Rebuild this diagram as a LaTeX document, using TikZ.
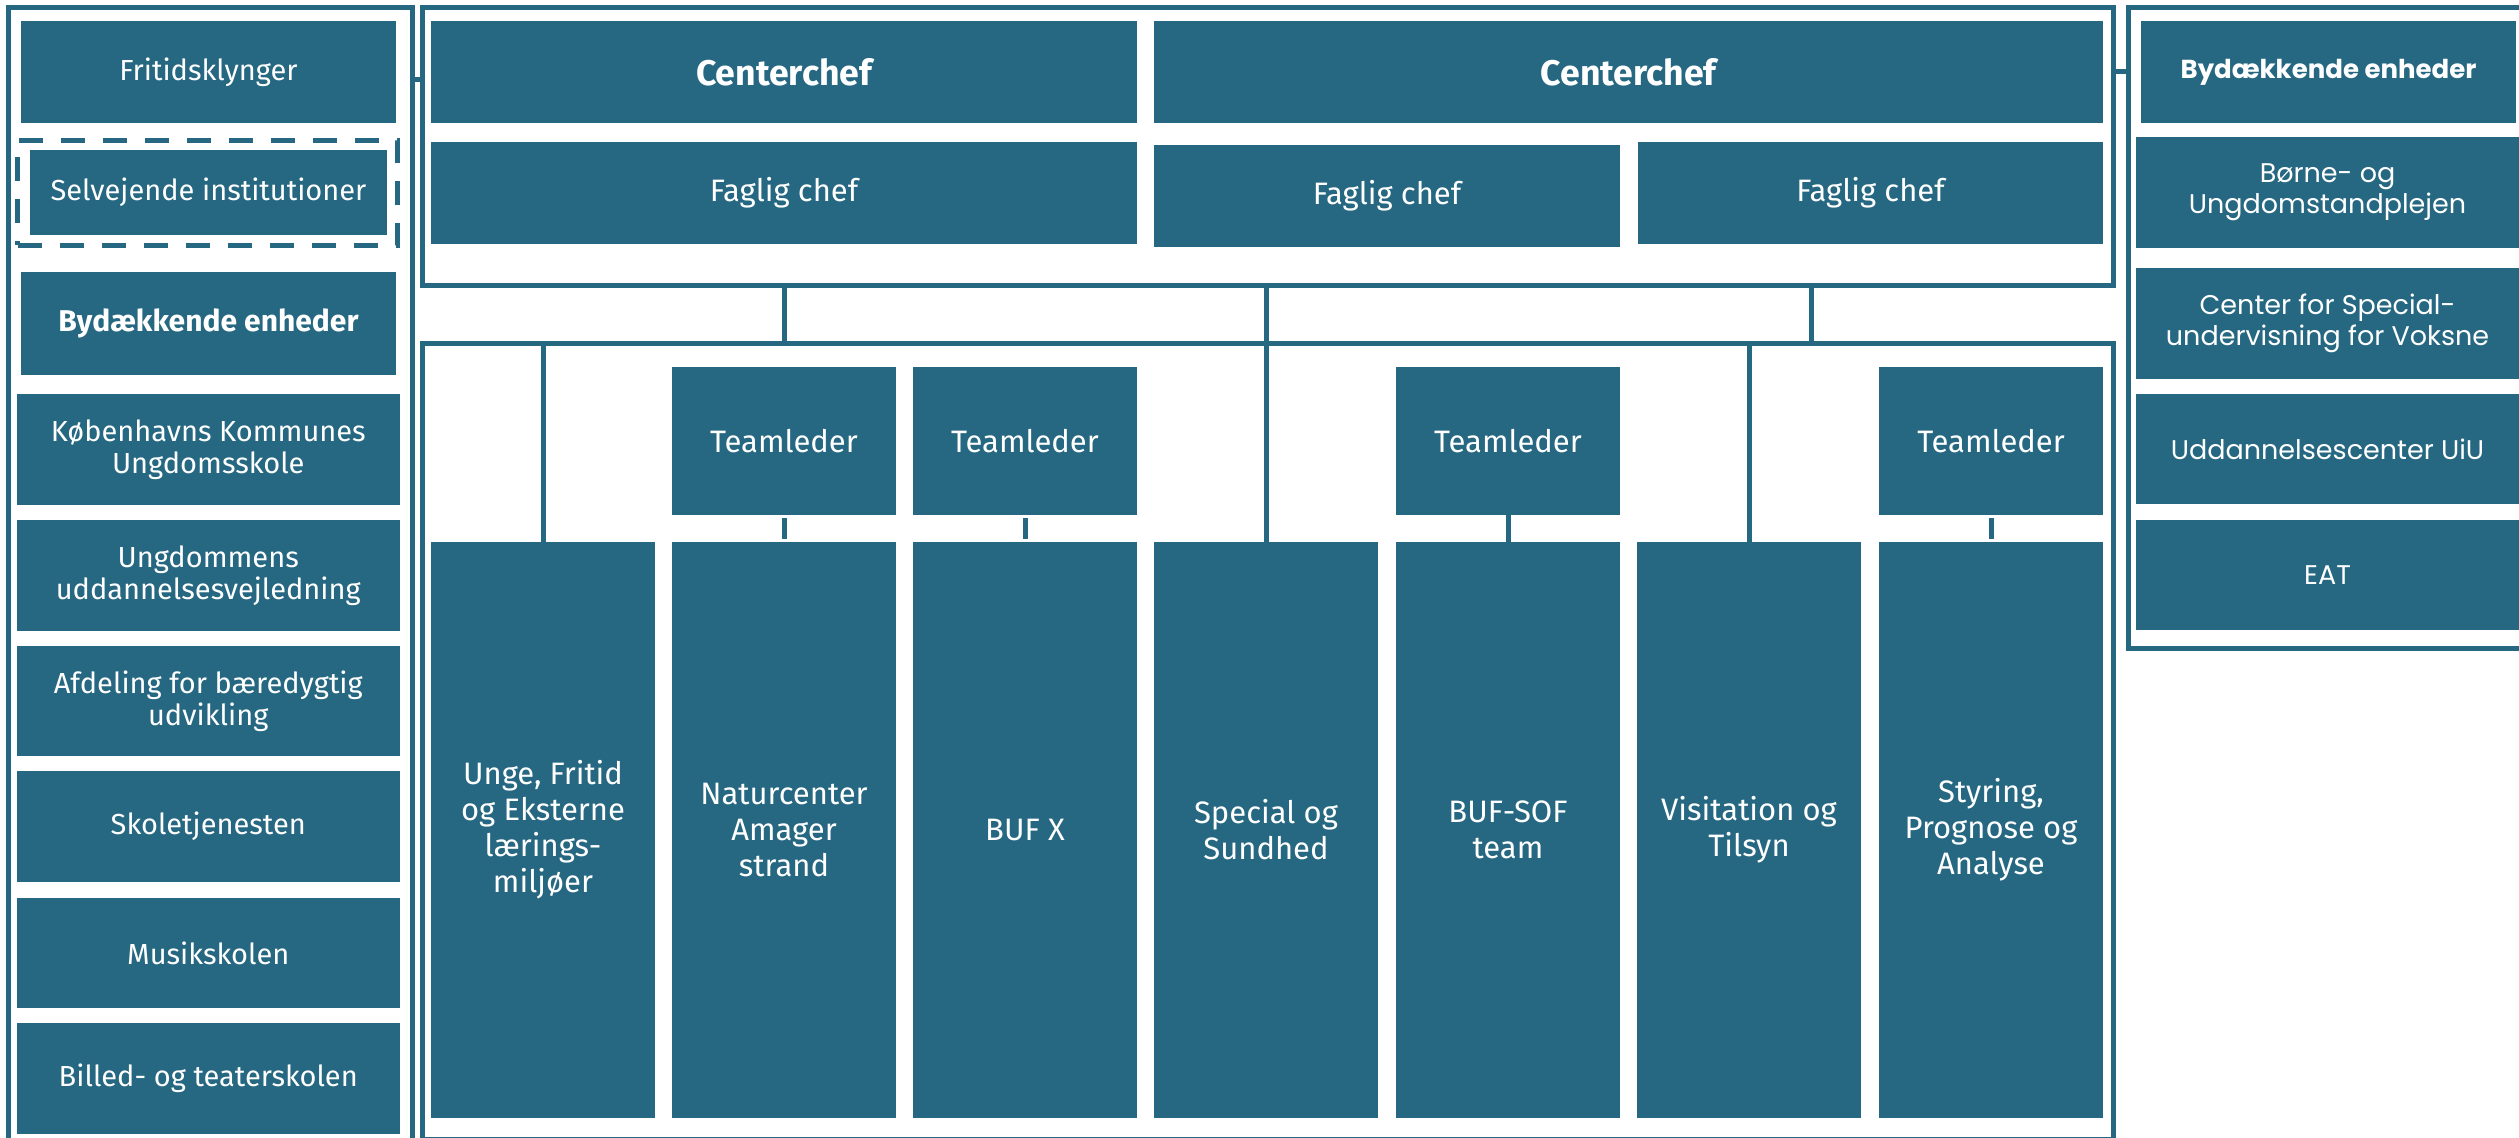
\documentclass[tikz,border=0pt]{standalone}
\usepackage{fontspec}
\setmainfont{Fira Sans}
\newfontfamily\widefont{Poppins}
\definecolor{kbhblue}{RGB}{38,104,130}
\tikzset{
  box/.style={fill=kbhblue, draw=none, text=white, inner sep=0pt, outer sep=0pt, align=center},
  frm/.style={fill=none, draw=kbhblue, line width=2.5pt},
  dsh/.style={fill=none, draw=kbhblue, line width=2.5pt, dash pattern=on 12pt off 9pt},
  con/.style={draw=kbhblue, line width=2.5pt},
  gap/.style={shorten <=1.5pt, shorten >=1.5pt},
  lt/.style={font=\fontsize{14.5}{16}\selectfont},
  ltb/.style={font=\fontsize{15}{16}\selectfont\bfseries},
  ct/.style={font=\fontsize{15.5}{18}\selectfont},
  cb/.style={font=\fontsize{17.8}{18}\selectfont\bfseries},
  rt/.style={font=\widefont\fontsize{13.5}{15.5}\selectfont},
  rtb/.style={font=\widefont\fontsize{13}{15}\selectfont\bfseries},
}
% \bx[options]{name}{x1}{y1}{x2}{y2}{text}  (pixel coordinates, y downward)
\newcommand\bx[7][]{\node[box,#1,minimum width={(#5-#3)*0.5pt},minimum height={(#6-#4)*0.5pt}] (#2) at ({(#3+#5)/2},{(#4+#6)/2}) {#7};}
\begin{document}
\begin{tikzpicture}[x=0.5pt,y=-0.5pt]
\useasboundingbox (0,0) rectangle (2519,1138);
\clip (0,0) rectangle (2519,1138);

% frames
\bx[frm]{lf}{8}{7.5}{412}{1170}{}
\bx[frm]{tf}{422.5}{7.5}{2113.5}{285.5}{}
\bx[frm]{bf}{422.5}{344}{2113.5}{1139.5}{}
\bx[frm]{rf}{2128.5}{8}{2545}{648.5}{}

% left column
\bx[lt]{fritid}{21}{21}{396}{123}{Fritidsklynger}
\bx[dsh]{dash}{17.5}{140.5}{397.5}{245.5}{}
\bx[lt]{selv}{30}{150}{387}{235}{Selvejende institutioner}
\bx[ltb]{bydl}{21}{272}{396}{375}{Bydækkende enheder}
\bx[lt]{kbh}{16.5}{394}{400}{505}{Københavns Kommunes\\Ungdomsskole}
\bx[lt]{ungd}{16.5}{520}{400}{631}{Ungdommens\\uddannelsesvejledning}
\bx[lt]{afd}{16.5}{646}{400}{756}{Afdeling for bæredygtig\\udvikling}
\bx[lt]{skole}{16.5}{771}{400}{882}{Skoletjenesten}
\bx[lt]{musik}{16.5}{898}{400}{1008}{Musikskolen}
\bx[lt]{billed}{16.5}{1023}{400}{1134}{Billed- og teaterskolen}

% top management
\bx[cb]{cc1}{431}{21}{1137}{123}{Centerchef}
\bx[cb]{cc2}{1154}{21}{2103}{123}{Centerchef}
\bx[ct]{fc1}{431}{142}{1137}{244}{Faglig chef}
\bx[ct]{fc2}{1154}{145}{1620}{247}{Faglig chef}
\bx[ct]{fc3}{1638}{142}{2103}{244}{Faglig chef}

% team leaders
\bx[ct]{tl1}{672}{367}{896}{515}{Teamleder}
\bx[ct]{tl2}{913}{367}{1137}{515}{Teamleder}
\bx[ct]{tl3}{1396}{367}{1620}{515}{Teamleder}
\bx[ct]{tl4}{1879}{367}{2103}{515}{Teamleder}

% teams
\bx[ct]{c1}{431}{542}{655}{1118}{Unge, Fritid\\og Eksterne\\lærings-\\miljøer}
\bx[ct]{c2}{672}{542}{896}{1118}{Naturcenter\\Amager\\strand}
\bx[ct]{c3}{913}{542}{1137}{1118}{BUF X}
\bx[ct]{c4}{1154}{542}{1378}{1118}{Special og\\Sundhed}
\bx[ct]{c5}{1396}{542}{1620}{1118}{BUF-SOF\\team}
\bx[ct]{c6}{1637}{542}{1861}{1118}{Visitation og\\Tilsyn}
\bx[ct]{c7}{1879}{542}{2103}{1118}{Styring,\\Prognose og\\Analyse}

% right column
\bx[rtb]{bydr}{2141}{21}{2516}{123}{Bydækkende enheder}
\bx[rt]{borne}{2136}{137}{2519}{248}{Børne- og\\Ungdomstandplejen}
\bx[rt]{cfs}{2136}{268}{2519}{379}{Center for Special-\\undervisning for Voksne}
\bx[rt]{uiu}{2136}{394}{2519}{504}{Uddannelsescenter UiU}
\bx[rt]{eat}{2136}{520}{2519}{630}{EAT}

% connectors
\coordinate (ya) at (0,80);
\coordinate (yb) at (0,72);
\coordinate (xr) at (1811,0);
\draw[con] (lf.east |- ya) -- (tf.west |- ya);
\draw[con] (tf.east |- yb) -- (rf.west |- yb);
\draw[con] (tf.south -| tl1) -- (bf.north -| tl1);
\draw[con] (tf.south -| xr) -- (bf.north -| xr);
\draw[con] (tf.south -| c4) -- (c4.north);
\draw[con] (bf.north -| c1) -- (c1.north);
\draw[con] (bf.north -| c6) -- (c6.north);
\draw[con,gap] (tl1) -- (c2);
\draw[con,gap] (tl2) -- (c3);
\draw[con] (tl3) -- (c5);
\draw[con,gap] (tl4) -- (c7);
\end{tikzpicture}
\end{document}
